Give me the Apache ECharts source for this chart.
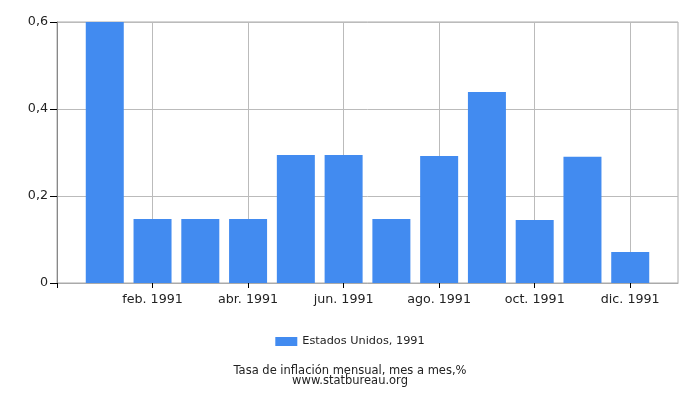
<!DOCTYPE html>
<html><head><meta charset="utf-8">
<script src="https://cdn.jsdelivr.net/npm/echarts@6/dist/echarts.min.js"></script>
<style>html,body{margin:0;padding:0;background:#fff}#c{width:700px;height:400px}</style>
</head><body><div id="c"></div>
<script>
var categories = ['', 'ene. 1991', 'feb. 1991', 'mar. 1991', 'abr. 1991', 'may. 1991', 'jun. 1991', 'jul. 1991', 'ago. 1991', 'sep. 1991', 'oct. 1991', 'nov. 1991', 'dic. 1991', ''];
var values = [null, 0.6, 0.147, 0.147, 0.147, 0.294, 0.294, 0.147, 0.292, 0.439, 0.145, 0.290, 0.071, null];
var yTicks = [0, 0.2, 0.4, 0.6];
var seriesName = 'Estados Unidos, 1991';
var titleLines = ['Tasa de inflación mensual, mes a mes,%', 'www.statbureau.org'];

var chart = echarts.init(document.getElementById('c'), null, {renderer: 'canvas'});
var font = 'DejaVu Sans';
chart.setOption({
  animation: false,
  textStyle: {fontFamily: font},
  grid: {left: 57, right: 22, top: 22, bottom: 117, show: true, borderColor: '#aaa', borderWidth: 1, containLabel: false},
  xAxis: {
    type: 'category', data: categories, boundaryGap: false,
    axisLine: {lineStyle: {color: '#aaa'}},
    axisTick: {show: true, interval: 1, length: 5, lineStyle: {color: '#000'}},
    axisLabel: {interval: 1, color: '#222', fontSize: 12.7, margin: 10, fontFamily: font},
    splitLine: {show: true, interval: 1, lineStyle: {color: '#bbb'}}
  },
  yAxis: {
    type: 'value', min: 0, max: 0.6, interval: 0.2,
    axisLine: {show: true, lineStyle: {color: '#888'}},
    axisTick: {show: true, length: 7, lineStyle: {color: '#000'}},
    axisLabel: {color: '#222', fontSize: 12.7, margin: 9, fontFamily: font,
      formatter: function (v) { return yTicks.indexOf(Math.round(v*10)/10) >= 0 ? String(Math.round(v*10)/10).replace('.', ',') : ''; }},
    splitLine: {show: true, lineStyle: {color: '#bbb'}}
  },
  legend: {
    bottom: 48, left: 'center', itemWidth: 22, itemHeight: 9, itemGap: 5,
    textStyle: {color: '#222', fontSize: 11.3, fontFamily: font},
    data: [{name: seriesName, icon: 'rect'}]
  },
  title: {
    text: titleLines.join('\n'), left: 'center', bottom: 7,
    textStyle: {color: '#222', fontSize: 11.5, fontWeight: 'normal', lineHeight: 10.5, fontFamily: font}
  },
  series: [{
    name: seriesName, type: 'bar', data: values, barWidth: 38,
    itemStyle: {color: '#428bf0'}
  }]
});
</script></body></html>
